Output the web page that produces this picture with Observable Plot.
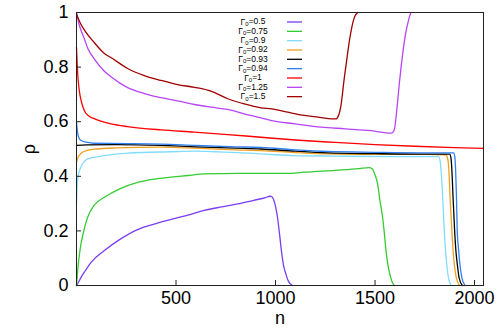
<!DOCTYPE html>
<html>
<head>
<meta charset="utf-8">
<script src="https://cdn.jsdelivr.net/npm/d3@7"></script>
<script src="https://cdn.jsdelivr.net/npm/@observablehq/plot@0.6"></script>
<style>
  html, body { margin: 0; padding: 0; background: #fff; }
</style>
</head>
<body>
<div id="chart"></div>
<script>
// ---- data: [n, rho] ----
const g050 = [[0,0],[10,0.012],[23,0.03],[45,0.055],[73,0.085],[140,0.128],[220,0.17],[307,0.205],[390,0.225],[475,0.242],[560,0.258],[642,0.275],[730,0.288],[810,0.299],[890,0.312],[950,0.322],[972,0.327],[982,0.325],[990,0.315],[1000,0.29],[1010,0.25],[1020,0.19],[1030,0.125],[1040,0.075],[1053,0.04],[1065,0.015],[1085,0]];
const g075 = [[0,0],[5,0.045],[10,0.085],[16,0.12],[23,0.154],[40,0.21],[56,0.25],[90,0.295],[140,0.323],[220,0.355],[307,0.378],[390,0.39],[475,0.397],[560,0.403],[642,0.409],[810,0.411],[950,0.411],[1078,0.411],[1144,0.415],[1300,0.422],[1420,0.428],[1470,0.432],[1485,0.428],[1500,0.405],[1513,0.372],[1525,0.31],[1538,0.25],[1547,0.19],[1555,0.128],[1565,0.075],[1575,0.04],[1585,0.015],[1597,0]];
const g090 = [[0,0.3],[3,0.36],[8,0.4],[15,0.42],[30,0.445],[56,0.464],[100,0.471],[140,0.476],[257,0.485],[475,0.49],[592,0.492],[700,0.49],[810,0.487],[950,0.481],[1094,0.476],[1300,0.474],[1597,0.472],[1820,0.472],[1828,0.45],[1834,0.4],[1840,0.323],[1848,0.2],[1855,0.12],[1862,0.065],[1870,0.025],[1882,0]];
const g092 = [[0,0.45],[5,0.465],[15,0.478],[30,0.488],[60,0.496],[100,0.5],[200,0.504],[425,0.507],[600,0.503],[800,0.497],[927,0.494],[1100,0.487],[1262,0.482],[1500,0.48],[1765,0.48],[1855,0.479],[1865,0.465],[1872,0.41],[1877,0.323],[1886,0.2],[1892,0.13],[1898,0.08],[1908,0.03],[1924,0]];
const g093 = [[0,0.513],[50,0.515],[200,0.516],[425,0.513],[600,0.508],[800,0.503],[927,0.5],[1100,0.492],[1262,0.486],[1500,0.483],[1765,0.481],[1875,0.481],[1882,0.465],[1887,0.41],[1892,0.323],[1900,0.2],[1906,0.13],[1913,0.08],[1922,0.03],[1938,0]];
const g094 = [[0,0.6],[3,0.575],[8,0.55],[15,0.537],[23,0.531],[50,0.525],[88,0.521],[257,0.52],[425,0.518],[600,0.513],[800,0.508],[927,0.506],[1100,0.497],[1262,0.491],[1500,0.488],[1765,0.486],[1895,0.486],[1901,0.47],[1905,0.42],[1909,0.33],[1913,0.2],[1920,0.13],[1926,0.08],[1936,0.03],[1952,0]];
const g100 = [[0,0.873],[3,0.82],[6,0.775],[10,0.74],[14,0.714],[23,0.678],[39,0.641],[60,0.622],[89,0.611],[130,0.6],[173,0.592],[257,0.582],[425,0.57],[592,0.562],[760,0.553],[927,0.543],[1100,0.533],[1300,0.524],[1500,0.516],[1700,0.51],[1900,0.505],[2045,0.502]];
const g125 = [[0,1],[10,0.965],[23,0.934],[39,0.905],[56,0.87],[89,0.83],[140,0.785],[173,0.765],[257,0.725],[341,0.703],[425,0.688],[508,0.676],[592,0.663],[676,0.653],[760,0.645],[843,0.629],[927,0.614],[980,0.604],[1100,0.592],[1229,0.58],[1350,0.574],[1480,0.567],[1580,0.558],[1590,0.562],[1598,0.574],[1606,0.62],[1614,0.678],[1622,0.74],[1631,0.8],[1640,0.855],[1648,0.897],[1656,0.932],[1664,0.958],[1672,0.982],[1681,1]];
const g150 = [[0,0.995],[20,0.96],[45,0.93],[89,0.89],[140,0.85],[173,0.835],[257,0.795],[341,0.769],[425,0.751],[508,0.736],[592,0.726],[676,0.712],[760,0.684],[843,0.665],[927,0.651],[980,0.647],[1060,0.635],[1145,0.623],[1230,0.615],[1304,0.61],[1312,0.616],[1320,0.63],[1329,0.66],[1336,0.7],[1343,0.745],[1353,0.8],[1363,0.855],[1372,0.9],[1383,0.945],[1393,0.975],[1403,0.992],[1413,1]];

const gammaLabels = ["0.5","0.75","0.9","0.92","0.93","0.94","1","1.25","1.5"];
const seriesData = [g050, g075, g090, g092, g093, g094, g100, g125, g150];
const colors = ["#7b3cf5","#33cc33","#80dcff","#f0a020","#000000","#2f80f0","#ff0000","#b844f5","#a00000"];

const xTicks = [500, 1000, 1500, 2000];
const yTicks = [0, 0.2, 0.4, 0.6, 0.8, 1];

const W = 498, H = 336;
const mL = 76, mR = 15, mT = 12, mB = 51;
const fw = W - mL - mR, fh = H - mT - mB;

const lineMarks = seriesData.map((s, i) =>
  Plot.line(s, {x: d => d[0], y: d => d[1], stroke: colors[i], strokeWidth: 1.3, curve: "monotone-x"})
);

const chart = Plot.plot({
  width: W, height: H,
  marginLeft: mL, marginRight: mR, marginTop: mT, marginBottom: mB,
  style: {fontFamily: "'Liberation Sans', Arial, Helvetica, sans-serif", fontSize: "18px", background: "#fff", color: "#000"},
  x: {domain: [0, 2045]},
  y: {domain: [0, 1]},
  marks: [
    ...lineMarks,
    Plot.frame({stroke: "#222", strokeWidth: 1}),
    Plot.tickX(xTicks, {x: d => d, insetTop: fh - 5, stroke: "#222"}),
    Plot.tickY(yTicks, {y: d => d, insetRight: fw - 5, stroke: "#222"}),
    Plot.axisX({ticks: xTicks, tickSize: 0, tickPadding: 6, label: null, fontSize: 18, tickFormat: d => String(d)}),
    Plot.axisY({ticks: yTicks, tickSize: 0, tickPadding: 8, label: null, fontSize: 18, tickFormat: d => String(d)}),
    Plot.text(["n"], {frameAnchor: "bottom", lineAnchor: "middle", textAnchor: "middle", dy: 33, fontSize: 18}),
    Plot.text(["ρ"], {frameAnchor: "left", lineAnchor: "middle", textAnchor: "middle", dx: -47, rotate: -90, fontSize: 18})
  ]
});

document.getElementById("chart").appendChild(chart);

// ---- legend (gnuplot style key with subscripts) ----
const svg = d3.select(chart);
const key = svg.append("g").attr("font-family", "'Liberation Sans', Arial, sans-serif").attr("font-size", 8.5);
gammaLabels.forEach((g, i) => {
  const y = 22 + i * 9.33;
  const t = key.append("text").attr("x", 253).attr("y", y).attr("dy", "0.3em").attr("fill", "#000");
  t.append("tspan").text("Γ");
  t.append("tspan").attr("font-size", 6).attr("dy", "0.25em").text("0");
  t.append("tspan").attr("dy", "-0.2em").text("=" + g);
  key.append("line").attr("x1", 287).attr("x2", 302).attr("y1", y).attr("y2", y)
    .attr("stroke", colors[i]).attr("stroke-width", 1.3);
});
</script>
</body>
</html>
